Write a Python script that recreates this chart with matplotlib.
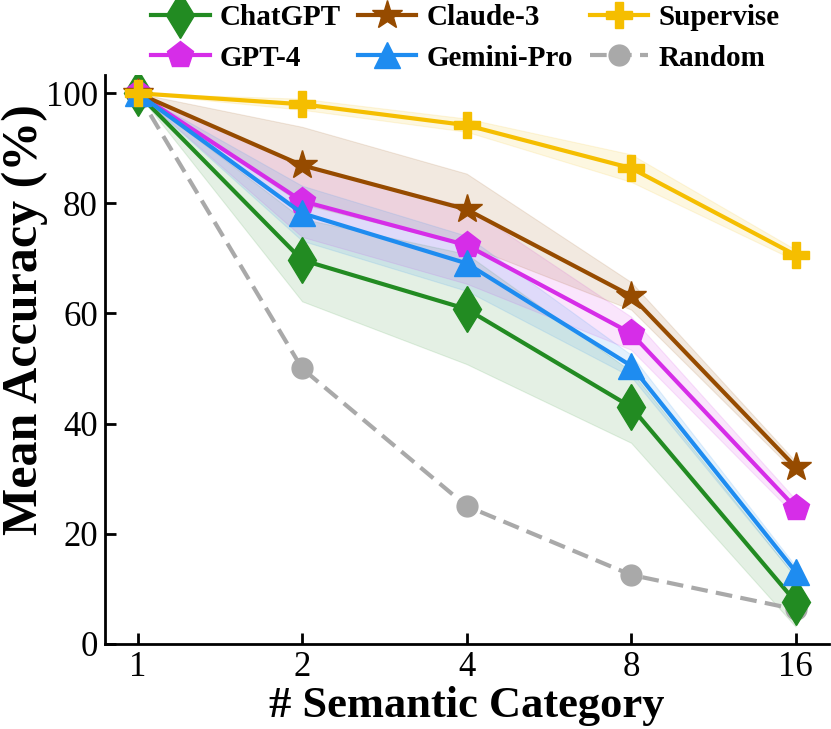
import matplotlib
matplotlib.use("Agg")
import matplotlib.pyplot as plt
import numpy as np

plt.rcParams['font.family'] = ['Liberation Serif', 'DejaVu Serif']

# number of semantic categories
categories = [1, 2, 4, 8, 16]

# mean accuracy (%) and spread
chatgpt = [100, 69.7, 60.8, 43.0, 7.6]
chatgpt_std = [0, 7.5, 10.0, 6.5, 4.5]
claude = [100, 86.9, 78.9, 63.2, 32.1]
claude_std = [0, 7.0, 6.5, 2.5, 1.0]
supervise = [100, 98.0, 94.2, 86.4, 70.6]
supervise_std = [0, 1.0, 1.2, 2.5, 1.0]
gpt4 = [100, 80.4, 72.4, 56.4, 24.7]
gpt4_std = [0, 6.5, 7.0, 3.0, 1.5]
gemini = [100, 78.2, 69.1, 50.5, 13.1]
gemini_std = [0, 5.0, 5.0, 2.0, 1.0]
random_base = [100, 50, 25, 12.5, 6.25]

series = [
    ("ChatGPT", chatgpt, chatgpt_std, "#228B22", "d", 23),
    ("GPT-4", gpt4, gpt4_std, "#D62DE8", "p", 20),
    ("Claude-3", claude, claude_std, "#964B00", "*", 22),
    ("Gemini-Pro", gemini, gemini_std, "#1E8CF0", "^", 19),
    ("Supervise", supervise, supervise_std, "#F5BE00", "P", 19),
]

fig = plt.figure(figsize=(8.31, 7.29), dpi=100)
ax = fig.add_axes([0.126, 0.117, 0.871, 0.78])

x = np.array(categories, dtype=float)
handles = {}
for name, vals, std, col, mk, ms in series:
    v = np.array(vals)
    s = np.array(std)
    ax.fill_between(x, v - s, v + s, color=col, alpha=0.12, lw=0.8)
    h, = ax.plot(x, v, color=col, marker=mk, markersize=ms, lw=3, label=name)
    handles[name] = h

h, = ax.plot(x, random_base, color="#A9A9A9", marker="o", markersize=15, lw=3,
             ls=(0, (4, 2)), label="Random", zorder=1.5)
handles["Random"] = h

ax.set_xscale("log", base=2)
ax.set_xlim(2 ** -0.2, 2 ** 4.2)
ax.set_ylim(0, 103.3)
ax.set_xticks(categories)
ax.set_xticklabels([str(c) for c in categories])
ax.minorticks_off()
ax.set_yticks([0, 20, 40, 60, 80, 100])
ax.tick_params(direction="in", length=8, width=2, labelsize=25, pad=5)

for side in ["top", "right"]:
    ax.spines[side].set_visible(False)
for side in ["left", "bottom"]:
    ax.spines[side].set_linewidth(2)

ax.set_xlabel("# Semantic Category", fontsize=32, fontweight="bold", labelpad=2)
ax.set_ylabel("Mean Accuracy (%)", fontsize=36, fontweight="bold")
ax.yaxis.set_label_coords(-0.078, 0.57)

order = ["ChatGPT", "GPT-4", "Claude-3", "Gemini-Pro", "Supervise", "Random"]
fig.legend([handles[n] for n in order], order, ncol=3, frameon=False,
           loc="upper center", bbox_to_anchor=(0.56, 1.03),
           prop={"weight": "bold", "size": 21}, handlelength=2.0,
           handletextpad=0.35, columnspacing=0.58, labelspacing=0.45)

fig.savefig("out.png", dpi=100)
